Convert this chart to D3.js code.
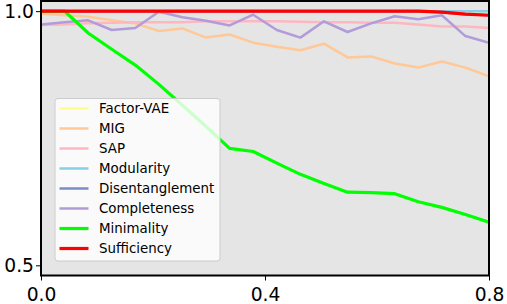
<!DOCTYPE html>
<html><head><meta charset="utf-8">
<script src="https://cdn.jsdelivr.net/npm/d3@7/dist/d3.min.js"></script>
<style>body{margin:0;background:#fff}svg{display:block}</style>
</head><body>
<script>
const xValues = [0.0,0.0421,0.0842,0.1263,0.1684,0.2105,0.2526,0.2947,0.3368,0.3789,0.4211,0.4632,0.5053,0.5474,0.5895,0.6316,0.6737,0.7158,0.7579,0.8];
const factorVAE = [1,1,1,1,1,1,1,1,1,1,1,1,1,1,1,1,1,1,1,1];
const mig = [0.995,0.992,0.989,0.982,0.976,0.961,0.966,0.948,0.954,0.938,0.930,0.923,0.936,0.909,0.911,0.897,0.889,0.901,0.889,0.872];
const sap = [0.973,0.974,0.976,0.977,0.978,0.978,0.978,0.980,0.980,0.980,0.980,0.979,0.978,0.978,0.977,0.977,0.974,0.970,0.970,0.967];
const modularity = [1,1,1,1,1,1,1,1,1,1,1,1,1,1,1,1,1,1,1,1];
const disentanglement = [1,1,1,1,1,1,1,1,1,1,1,1,1,1,1,1,1,0.998,0.994,0.992];
const completeness = [0.974,0.978,0.982,0.963,0.967,0.999,0.988,0.981,0.972,0.993,0.963,0.948,0.980,0.959,0.976,0.990,0.984,0.992,0.951,0.938];
const minimality = [1.0,1.0,0.957,0.925,0.894,0.856,0.815,0.773,0.730,0.724,0.701,0.679,0.661,0.644,0.643,0.641,0.625,0.614,0.600,0.585];
const sufficiency = [1,1,1,1,1,1,1,1,1,1,1,1,1,1,1,1,1,0.998,0.994,0.992];
const seriesNames = ["Factor-VAE","MIG","SAP","Modularity","Disentanglement","Completeness","Minimality","Sufficiency"];
const seriesData = [factorVAE,mig,sap,modularity,disentanglement,completeness,minimality,sufficiency];
const colors = ["#ffff88","#ffc896","#ffb6c1","#87ceeb","#7b8cc8","#b19cd9","#00ff00","#ff0000"];
const widths = [2.5,2.5,2.5,2.5,2.5,2.5,3.2,3.2];
const xTicks = [0.0,0.4,0.8];
const yTicks = [0.5,1.0];

const W=507,H=304;
const L=41,R=489,T=1,B=275.5;
const svg=d3.select("body").append("svg").attr("width",W).attr("height",H);
const x=d3.scaleLinear().domain([0,0.8]).range([L,R]);
const y=d3.scaleLinear().domain([0.48,1.02]).range([B,T]);

svg.append("rect").attr("x",L).attr("y",T).attr("width",R-L).attr("height",B-T).attr("fill","#e5e5e5");
const clip=svg.append("clipPath").attr("id","c").append("rect").attr("x",L).attr("y",T).attr("width",R-L).attr("height",B-T);
const g=svg.append("g").attr("clip-path","url(#c)");
const line=d3.line().x((d,i)=>x(xValues[i])).y(d=>y(d));
seriesData.forEach((s,k)=>{
  g.append("path").datum(s).attr("d",line).attr("fill","none").attr("stroke",colors[k]).attr("stroke-width",widths[k]).attr("stroke-linejoin","round").attr("stroke-linecap","butt");
});

// axes
const fmt=d3.format(".1f");
const xa=svg.append("g").attr("transform",`translate(0,${B})`).call(d3.axisBottom(x).tickValues(xTicks).tickFormat(fmt).tickSize(5).tickSizeOuter(0));
const ya=svg.append("g").attr("transform",`translate(${L},0)`).call(d3.axisLeft(y).tickValues(yTicks).tickFormat(fmt).tickSize(5).tickSizeOuter(0));
[xa,ya].forEach(a=>{a.select(".domain").remove();a.selectAll("line").attr("stroke","#000").attr("stroke-width",1);
  a.selectAll("text").attr("font-family","DejaVu Sans").attr("font-size","18.7px").attr("fill","#000");});
xa.selectAll("text").attr("dy","0.95em");
ya.selectAll("text").attr("dy","0.35em").attr("x",-7);
// spines
svg.append("rect").attr("x",L).attr("y",T).attr("width",R-L).attr("height",B-T).attr("fill","none").attr("stroke","#000").attr("stroke-width",2);

// legend
const lg=svg.append("g");
lg.append("rect").attr("x",55).attr("y",98.5).attr("width",165).attr("height",162.5).attr("rx",3).attr("fill","#fff").attr("fill-opacity",0.8).attr("stroke","#cccccc").attr("stroke-width",1);
seriesNames.forEach((n,k)=>{
  const cy=108.5+k*20;
  lg.append("line").attr("x1",59.5).attr("x2",88.5).attr("y1",cy).attr("y2",cy).attr("stroke",colors[k]).attr("stroke-width",widths[k]);
  lg.append("text").attr("x",99).attr("y",cy).attr("dy","0.36em").attr("font-family","DejaVu Sans").attr("font-size","13.4px").attr("fill","#000").text(n);
});
</script>
</body></html>
